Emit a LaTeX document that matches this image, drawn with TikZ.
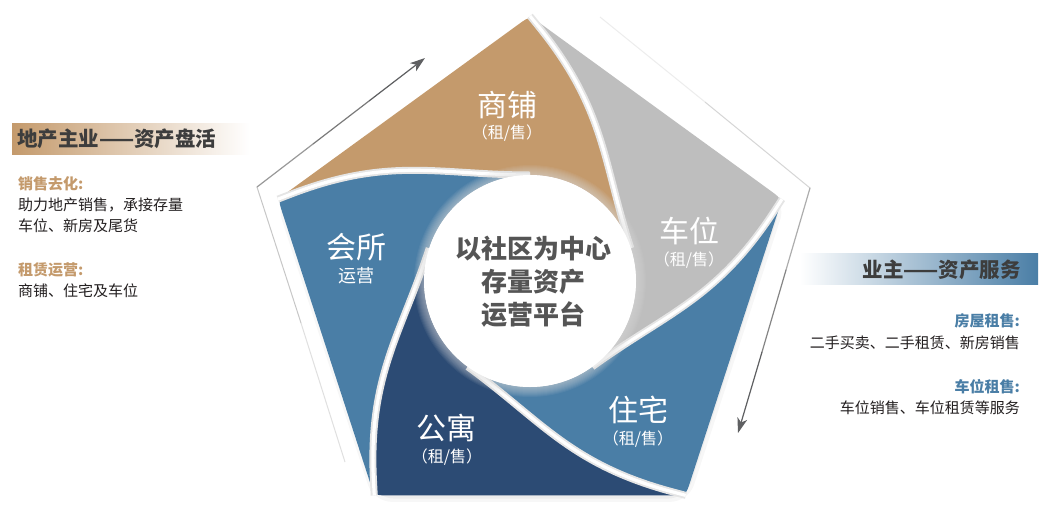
\documentclass[tikz,border=0pt]{standalone}
\usepackage{fontspec}
\setmainfont{Noto Sans CJK SC}
\usetikzlibrary{arrows.meta}
\definecolor{cTan}{HTML}{C49A6C}
\definecolor{cGray}{HTML}{BEBEBE}
\definecolor{cBlue}{HTML}{4A7EA6}
\definecolor{cNavy}{HTML}{2C4B74}
\definecolor{cHead}{HTML}{3D3D3D}
\definecolor{cBody}{HTML}{231F20}
\definecolor{cCenter}{HTML}{555555}
\definecolor{cArrow}{HTML}{5F6062}
\tikzset{
  gapshade/.style={draw=black!10, line width=7pt},
  gapwhite/.style={draw=white, line width=3.2pt},
  bladebig/.style={text=white, font=\fontsize{30}{32}\selectfont, inner sep=0pt},
  bladesmall/.style={text=white, font=\fontsize{16}{18}\selectfont, inner sep=0pt},
  headtext/.style={text=cHead, font=\fontsize{20.5}{22}\selectfont\bfseries, inner sep=0pt},
  bodytext/.style={text=cBody, font=\fontsize{15}{17}\selectfont, inner sep=0pt},
  subhead/.style={font=\fontsize{15}{17}\selectfont\bfseries, inner sep=0pt},
  arrowseg/.style={line width=1.2pt, line cap=round},
  arrowend/.style={line width=1.2pt, -{Stealth[length=15pt,width=10pt,inset=4pt]}},
}
\newcommand\myblade[3]{%
  \fill[#3] (V#2) -- (A#1) .. controls (V#1) .. (B#1)
    .. controls (P#1) and (Q#1) .. (T#1)
    arc[start angle={18-72*#1}, end angle={90-72*#1}, radius=106pt]
    .. controls (Q#2) and (P#2) .. (B#2) -- cycle;}
\begin{document}
\begin{tikzpicture}[x=1pt,y=1pt]
\useasboundingbox (0,0) rectangle (1050,-507);
\fill[white] (0,0) rectangle (1050,-507);

% geometry
\coordinate (O) at (530,-281);
\foreach \j in {0,...,4} {
  \begin{scope}[shift={(530,-281)}, rotate={-72*\j}]
    \coordinate (V\j) at (0,265);
    \coordinate (A\j) at (-11.33,256.77);
    \coordinate (B\j) at (8.81,254.12);
    \coordinate (P\j) at (75.5,171.8);
    \coordinate (Q\j) at (73,118.4);
    \coordinate (T\j) at (18:106);
  \end{scope}
}

% outer outline and arrows
\coordinate (oL) at (257,-187);
\coordinate (oL1) at (301,-323);
\coordinate (oL2) at (345,-462);
\coordinate (aL1) at (313,-144);
\coordinate (aL2) at (369,-101);
\coordinate (aLt) at (425,-58);
\coordinate (oR) at (810,-188);
\coordinate (oR1) at (705,-102);
\coordinate (oR2) at (600,-17);
\coordinate (aR1) at (786,-270);
\coordinate (aR2) at (762,-352);
\coordinate (aRt) at (738,-433);
\draw[line width=1pt, draw=black!22] (oL) -- (oL1);
\draw[line width=1pt, draw=black!12] (oL1) -- (oL2);
\draw[line width=1pt, draw=black!16] (oR) -- (oR1);
\draw[line width=1pt, draw=black!7] (oR1) -- (oR2);
\draw[arrowseg, draw=black!40] (oL) -- (aL1);
\draw[arrowseg, draw=black!52] (aL1) -- (aL2);
\draw[arrowend, draw=cArrow, fill=cArrow] (aL2) -- (aLt);
\draw[arrowseg, draw=black!32] (oR) -- (aR1);
\draw[arrowseg, draw=black!48] (aR1) -- (aR2);
\draw[arrowend, draw=cArrow, fill=cArrow] (aR2) -- (aRt);

% soft shadow of pentagon
\begin{scope}[shift={(531,-285)}]
  \fill[black, opacity=0.03, rounded corners=18pt] (90:268) -- (18:268) -- (-54:268) -- (-126:268) -- (162:268) -- cycle;
  \fill[black, opacity=0.04, rounded corners=18pt] (90:264) -- (18:264) -- (-54:264) -- (-126:264) -- (162:264) -- cycle;
\end{scope}

% blades
\myblade{0}{4}{cTan}
\myblade{1}{0}{cGray}
\myblade{2}{1}{cBlue}
\myblade{3}{2}{cNavy}
\myblade{4}{3}{cBlue}

% gaps between blades
\foreach \j in {0,...,4} {
  \draw[gapshade] (V\j) -- (B\j) .. controls (P\j) and (Q\j) .. (T\j);
}
\foreach \j in {0,...,4} {
  \draw[gapwhite] (V\j) -- (B\j) .. controls (P\j) and (Q\j) .. (T\j);
}

% central circle with soft light glow
\foreach \r in {116,115,...,107} {
  \fill[black!12, opacity=0.07] (O) circle[radius=\r pt];
}
\fill[white] (O) circle[radius=106pt];

\node[align=center, text=cCenter, font=\fontsize{26}{33}\selectfont\bfseries, inner sep=0pt] (ctr) at (533,-282) {以社区为中心\\存量资产\\运营平台};

% blade labels
\node[bladebig] (sp) at (507,-105) {商铺};
\node[bladesmall] (sp2) at (507,-133) {（租/售）};
\node[bladebig] (cw) at (689,-231) {车位};
\node[bladesmall] (cw2) at (689,-260) {（租/售）};
\node[bladebig] (hs) at (356,-247) {会所};
\node[text=white, font=\fontsize{18}{20}\selectfont, inner sep=0pt] (hs2) at (356,-276) {运营};
\node[bladebig] (gy) at (446,-428) {公寓};
\node[bladesmall] (gy2) at (447,-457) {（租/售）};
\node[bladebig] (zz) at (638,-410) {住宅};
\node[bladesmall] (zz2) at (638,-439) {（租/售）};

% left panel
\shade[left color=cTan, right color=white] (12,-123) rectangle (250,-154);
\node[headtext, anchor=west] (lh) at (17,-139) {地产主业——资产盘活};
\node[subhead, text=cTan, anchor=west] (l1) at (18,-183.5) {销售去化:};
\node[bodytext, anchor=west] (l2) at (18,-205) {助力地产销售，承接存量};
\node[bodytext, anchor=west] (l3) at (18,-225.5) {车位、新房及尾货};
\node[subhead, text=cTan, anchor=west] (l4) at (18,-270) {租赁运营:};
\node[bodytext, anchor=west] (l5) at (18,-291) {商铺、住宅及车位};

% right panel
\shade[left color=white, right color=cBlue] (800,-253) rectangle (1038,-284);
\node[headtext, anchor=east] (rh) at (1021,-270) {业主——资产服务};
\node[subhead, text=cBlue, anchor=east] (r1) at (1020,-321) {房屋租售:};
\node[bodytext, anchor=east] (r2) at (1020,-343) {二手买卖、二手租赁、新房销售};
\node[subhead, text=cBlue, anchor=east] (r3) at (1020,-387) {车位租售:};
\node[bodytext, anchor=east] (r4) at (1020,-408) {车位销售、车位租赁等服务};
\end{tikzpicture}
\end{document}
